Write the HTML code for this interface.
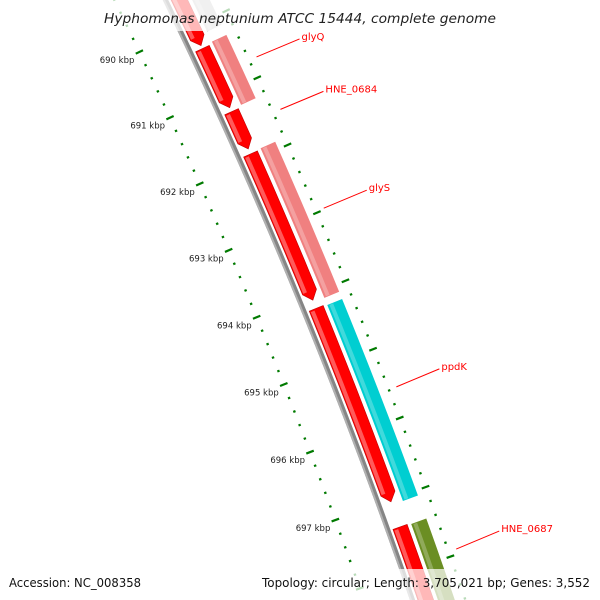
<!DOCTYPE html>
<html><head><meta charset="utf-8"><style>
html,body{margin:0;padding:0;background:#fff;overflow:hidden;}
svg{display:block;font-family:"DejaVu Sans","Liberation Sans",sans-serif;}
</style></head><body>
<svg id="map" width="600" height="600" viewBox="0 0 600 600" xmlns="http://www.w3.org/2000/svg">
<g id="ticks"></g>
<path id="backbone" fill="none" stroke="#858585" stroke-width="5"></path>
<path id="backbone-hl" fill="none" stroke="#b0b0b0" stroke-width="2"></path>
<g id="features"></g>
<g id="labels"></g>
<rect x="0" y="0" width="600" height="31" fill="#fff" fill-opacity="0.72"></rect>
<text x="300" y="23" text-anchor="middle" font-size="13" font-style="italic" fill="#222" textLength="392" lengthAdjust="spacingAndGlyphs">Hyphomonas neptunium ATCC 15444, complete genome</text>
<rect x="0" y="569" width="600" height="31" fill="#fff" fill-opacity="0.72"></rect>
<text x="9" y="587" font-size="12" fill="#111" textLength="132" lengthAdjust="spacingAndGlyphs">Accession: NC_008358</text>
<text x="590" y="587" font-size="12" text-anchor="end" fill="#111" textLength="328" lengthAdjust="spacingAndGlyphs">Topology: circular; Length: 3,705,021 bp; Genes: 3,552</text>
</svg>
<script>
// data
const row1Starts = [689000, 690326, 691275, 691907, 694196, 697390];
const row1Ends   = [690281, 691215, 691832, 694076, 697027, 698900];
const row2Names  = ['', 'glyQ', 'glyS', 'ppdK', 'HNE_0687'];
const row2Starts = [689000, 690296, 691892, 694211, 697404];
const row2Ends   = [690145, 691244, 694106, 697072, 698900];
const row2Colors = ['#c8c8c8', '#f08080', '#f08080', '#00ced1', '#6b8e23'];
const tickKbp    = [690, 691, 692, 693, 694, 695, 696, 697];
const tickLabels = ['690 kbp','691 kbp','692 kbp','693 kbp','694 kbp','695 kbp','696 kbp','697 kbp'];
const labelNames = ['glyQ', 'HNE_0684', 'glyS', 'ppdK', 'HNE_0687'];
const labelBp    = [690740, 691520, 692980, 695590, 697930];

const NS = 'http://www.w3.org/2000/svg';
const CX = -4825, CY = 2405.5;
function ang(bp){ return -0.4427 + (bp - 690000) * 0.0132e-3; }
function pt(bp, r){ const a = ang(bp); return [CX + r*Math.cos(a), CY + r*Math.sin(a)]; }
function arcPts(b0, b1, r){ const out=[]; const n=Math.max(2,Math.ceil((b1-b0)/150)); for(let i=0;i<=n;i++){ out.push(pt(b0+(b1-b0)*i/n, r)); } return out; }
function P(p){ return p[0].toFixed(2)+','+p[1].toFixed(2); }
function band(b0,b1,r0,r1,arrow){
  const ah = 120;
  const e = arrow ? b1-ah : b1;
  let d = 'M' + arcPts(b0,e,r1).map(P).join(' L');
  if(arrow){ d += ' L' + P(pt(b1,(r0+r1)/2)); }
  d += ' L' + arcPts(b0,e,r0).reverse().map(P).join(' L') + ' Z';
  return d;
}
function mk(tag, attrs, parent){ const el=document.createElementNS(NS,tag); for(const k in attrs) el.setAttribute(k,attrs[k]); parent.appendChild(el); return el; }

// backbone
document.getElementById('backbone').setAttribute('d','M'+arcPts(688800,699000,5540).map(P).join(' L'));
document.getElementById('backbone-hl').setAttribute('d','M'+arcPts(688800,699000,5538.5).map(P).join(' L'));

// ticks
const tg = document.getElementById('ticks');
for(let bp=688800; bp<=698800; bp+=200){
  const major = bp % 1000 === 0;
  [5494,5590].forEach((r)=>{
    const a = major ? pt(bp, r-4) : pt(bp, r-1.2);
    const b = major ? pt(bp, r+4) : pt(bp, r+1.2);
    const ln = mk('line',{x1:a[0],y1:a[1],x2:b[0],y2:b[1],stroke:'#007a00','stroke-width':2.2},tg);
    
    
  });
}
tickKbp.forEach((k,i)=>{
  const p = pt(k*1000, 5494);
  const t = mk('text',{x:p[0]-5,y:p[1]+11,'text-anchor':'end','font-size':'8.5',fill:'#222'},tg);
  
  
  t.textContent = tickLabels[i];
});

// features
const fg = document.getElementById('features');
row1Starts.forEach((s,i)=>{
  const e = row1Ends[i];
  const f = mk('path',{d:band(s,e,5545,5560,true),fill:'#ff0000',stroke:'#c00000','stroke-width':0.6},fg);
  
  
  const h = mk('path',{d:band(s+20,e-130,5546,5550,false),fill:'#ff5a5a'},fg);
  
  
});
row2Starts.forEach((s,i)=>{
  const e = row2Ends[i];
  const f = mk('path',{d:band(s,e,5564,5580,false),fill:row2Colors[i]},fg);
  
  
  const h = mk('path',{d:band(s+10,e-10,5566,5570,false),fill:'#ffffff','fill-opacity':0.25},fg);
  
  
});

// labels
const lg = document.getElementById('labels');
labelNames.forEach((n,i)=>{
  const a = pt(labelBp[i], 5598);
  const b = [a[0]+43, a[1]-18];
  const l = mk('line',{x1:a[0],y1:a[1],x2:b[0],y2:b[1],stroke:'#ff0000','stroke-width':1},lg);
  
  
  const t = mk('text',{x:b[0]+2,y:b[1]+1,'font-size':'10',fill:'#ff0000'},lg);
  
  
  t.textContent = n;
});
</script>
</body></html>
